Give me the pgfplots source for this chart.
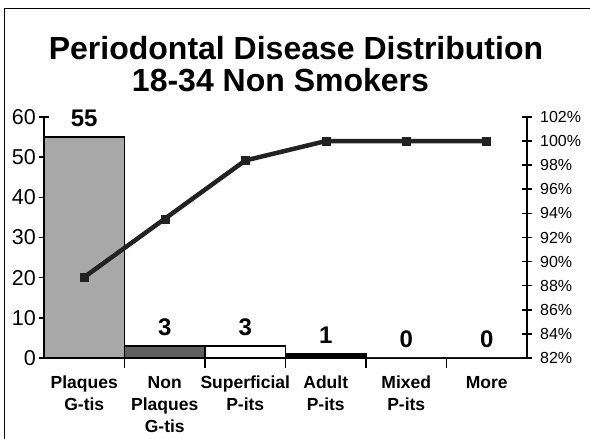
\documentclass[border=0pt]{standalone}
\usepackage{pgfplots}
\pgfplotsset{compat=1.18}
\usepackage{fontspec}
\setmainfont{Liberation Sans}
\definecolor{barA}{RGB}{168,168,168}
\definecolor{barB}{RGB}{96,96,96}
\definecolor{lineC}{RGB}{34,34,34}
\begin{document}
\begin{tikzpicture}[x=1pt,y=1pt]
\useasboundingbox (0,0) rectangle (590,439);
\draw[line width=1pt] (4.5,0) -- (4.5,430.5) -- (590,430.5);
\node[font=\fontsize{32}{32}\selectfont\bfseries, anchor=base, inner sep=0pt] at (296,379) {Periodontal Disease Distribution};
\node[font=\fontsize{32}{32}\selectfont\bfseries, anchor=base, inner sep=0pt] at (280.5,347) {18-34 Non Smokers};
\begin{axis}[
  at={(44pt,81pt)}, anchor=south west, scale only axis,
  width=483pt, height=241pt,
  xmin=-0.5, xmax=5.5, ymin=0, ymax=60,
  axis x line*=bottom, axis y line*=left,
  axis line style={line width=1.6pt},
  every tick/.style={line width=1.6pt, black},
  tick align=center, major tick length=10pt, minor tick length=10pt,
  /pgf/number format/assume math mode=true,
  ybar, /pgf/bar shift=0pt, bar width=1,
  ytick={0,10,20,30,40,50,60},
  yticklabels={0,10,20,30,40,50,60},
  yticklabel style={font=\fontsize{21.5}{21.5}\selectfont, inner sep=0pt, anchor=east, xshift=-3pt},
  xtick={0,1,2,3,4,5},
  xticklabels={{Plaques\\G-tis},{Non\\Plaques\\G-tis},{Superficial\\P-its},{Adult\\P-its},{Mixed\\P-its},{More}},
  major x tick style={draw=none},
  minor xtick={0.5,1.5,2.5,3.5,4.5},
  xticklabel style={font=\fontsize{17.5}{22}\selectfont\bfseries, align=center, anchor=north, inner sep=0pt, yshift=-8pt},
  nodes near coords,
  every node near coord/.append style={font=\fontsize{24}{24}\selectfont\bfseries, anchor=south, inner sep=0pt, yshift=10pt, black},
  clip=false,
]
\addplot[fill=barA, draw=black, line width=1.2pt] coordinates {(0,55)};
\addplot[fill=barB, draw=black, line width=1.2pt] coordinates {(1,3)};
\addplot[fill=white, draw=black, line width=1.2pt] coordinates {(2,3)};
\addplot[fill=black, draw=black, line width=1.2pt] coordinates {(3,1)};
\addplot[fill=white, draw=none] coordinates {(4,0)};
\addplot[fill=white, draw=none] coordinates {(5,0)};
\end{axis}
\begin{axis}[
  at={(44pt,81pt)}, anchor=south west, scale only axis,
  width=483pt, height=241pt,
  xmin=-0.5, xmax=5.5, ymin=82, ymax=102,
  axis y line*=right, hide x axis,
  axis line style={line width=1.6pt},
  every tick/.style={line width=1.6pt, black},
  tick align=center, major tick length=10pt,
  ytick={82,84,86,88,90,92,94,96,98,100,102},
  yticklabels={82\%,84\%,86\%,88\%,90\%,92\%,94\%,96\%,98\%,100\%,102\%},
  yticklabel style={font=\fontsize{16}{16}\selectfont, inner sep=0pt, anchor=west, xshift=8pt},
  clip=false,
]
\addplot[line width=4.5pt, color=lineC, mark=square*, mark size=4pt, mark options={line width=0.5pt, fill=lineC}] coordinates {(0,88.71) (1,93.55) (2,98.39) (3,100) (4,100) (5,100)};
\end{axis}
\end{tikzpicture}
\end{document}
